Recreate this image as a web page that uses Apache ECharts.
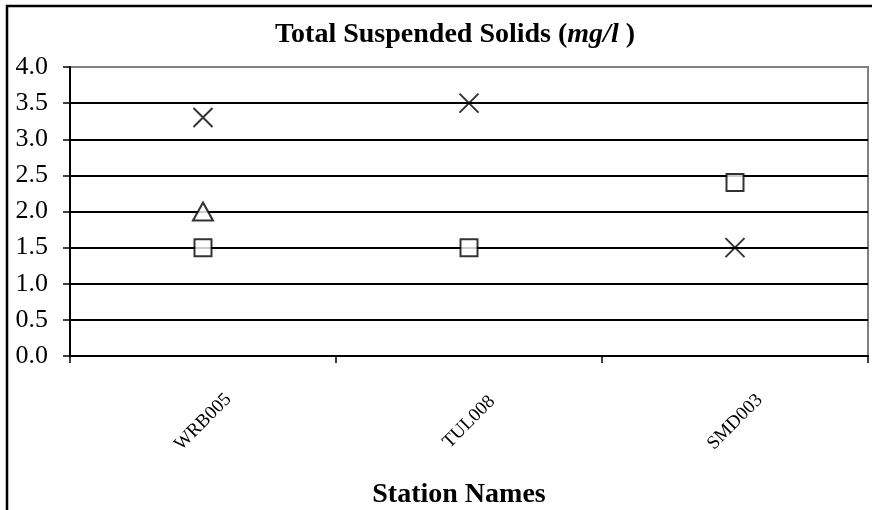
<!DOCTYPE html>
<html>
<head>
<meta charset="utf-8">
<script src="https://cdn.jsdelivr.net/npm/echarts@6/dist/echarts.min.js"></script>
<style>
  html, body { margin: 0; padding: 0; background: #fff; }
  #chart { width: 872px; height: 510px; }
</style>
</head>
<body>
<div id="chart"></div>
<script>
// Stations sampled
const stations = ['WRB005', 'TUL008', 'SMD003'];

// Total suspended solids readings (mg/l) per marker series
const squareValues = [1.5, 1.5, 2.4];
const triangleValues = [2.0, null, null];
const crossValues = [3.3, 3.5, 1.5];

// Value axis settings
const yMin = 0;
const yMax = 4;
const yStep = 0.5;

const serif = '"Liberation Serif", "DejaVu Serif", serif';
const crossPath = 'path://M0,0L10,10M10,0L0,10';

// One colour per split line, from 0.0 up to 4.0 (the top edge is grey)
const splitColors = ['#000', '#000', '#000', '#000', '#000', '#000', '#000', '#000', '#808080'];

const chart = echarts.init(document.getElementById('chart'), null, { renderer: 'canvas' });

chart.setOption({
  animation: false,
  backgroundColor: '#fff',
  title: {
    text: '{b|Total Suspended Solids (}{i|mg/l}{b| )}',
    left: 450,
    top: 16,
    textAlign: 'center',
    textStyle: {
      rich: {
        b: { fontFamily: serif, fontWeight: 'bold', fontSize: 28, color: '#000' },
        i: { fontFamily: serif, fontWeight: 'bold', fontStyle: 'italic', fontSize: 28, color: '#000' }
      }
    }
  },
  graphic: [{
    type: 'rect',
    silent: true,
    z: 100,
    shape: { x: 7, y: 6, width: 1000, height: 700 },
    style: { fill: 'none', stroke: '#000', lineWidth: 2.5 }
  }],
  grid: {
    left: 70,
    right: 4,
    top: 67,
    bottom: 154,
    outerBoundsMode: 'none',
    containLabel: false,
    show: true,
    borderColor: '#808080',
    borderWidth: 2,
    backgroundColor: 'transparent'
  },
  xAxis: {
    type: 'category',
    data: stations,
    boundaryGap: true,
    name: 'Station Names',
    nameLocation: 'middle',
    nameGap: 125,
    nameTextStyle: { fontFamily: serif, fontWeight: 'bold', fontSize: 28, color: '#000', padding: [0, 20, 0, 0] },
    axisLine: { show: true, lineStyle: { color: '#000', width: 2 } },
    axisTick: { show: true, length: 7, inside: false, alignWithLabel: false, lineStyle: { color: '#000', width: 1.5 } },
    axisLabel: {
      rotate: 45,
      align: 'center',
      verticalAlign: 'middle',
      margin: 66,
      fontFamily: serif,
      fontSize: 19,
      color: '#000'
    },
    splitLine: { show: false }
  },
  yAxis: {
    type: 'value',
    min: yMin,
    max: yMax,
    interval: yStep,
    axisLine: { show: true, lineStyle: { color: '#000', width: 2 } },
    axisTick: { show: true, length: 7, inside: false, lineStyle: { color: '#000', width: 1.5 } },
    axisLabel: {
      margin: 22,
      fontFamily: serif,
      fontSize: 26,
      color: '#000',
      formatter: v => v.toFixed(1)
    },
    splitLine: { show: true, lineStyle: { color: splitColors, width: 2 } }
  },
  series: [
    {
      name: 'Square',
      type: 'scatter',
      data: squareValues,
      symbol: 'rect',
      symbolSize: 17,
      z: 5,
      itemStyle: { color: '#fff', borderColor: '#000', borderWidth: 2 }
    },
    {
      name: 'Triangle',
      type: 'scatter',
      data: triangleValues,
      symbol: 'triangle',
      symbolSize: [20, 18],
      z: 5,
      itemStyle: { color: '#fff', borderColor: '#000', borderWidth: 2 }
    },
    {
      name: 'Cross',
      type: 'scatter',
      data: crossValues,
      symbol: crossPath,
      symbolSize: 19,
      z: 5,
      itemStyle: { color: 'none', borderColor: '#000', borderWidth: 2 }
    }
  ]
});
</script>
</body>
</html>
